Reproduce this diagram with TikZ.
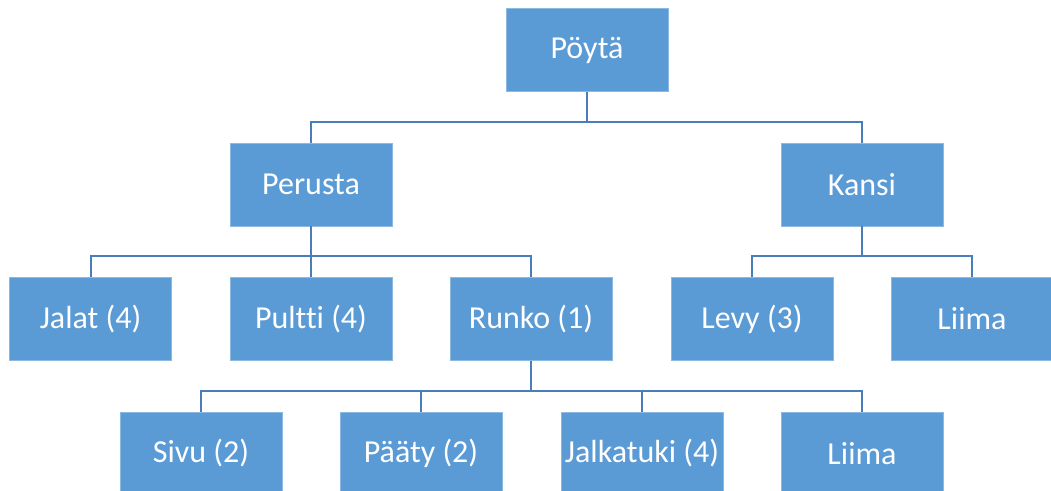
\documentclass[tikz,border=0pt]{standalone}
\usepackage{fontspec}
\setmainfont[Ligatures=NoCommon]{Carlito}
\definecolor{boxblue}{HTML}{5B9BD5}
\definecolor{linkblue}{HTML}{4A7EBB}
\begin{document}
\begin{tikzpicture}[x=1pt,y=-1pt,
  part/.style={fill=boxblue, draw=boxblue!70!white, line width=0.6pt,
    minimum width=162pt, minimum height=83pt, inner sep=0pt,
    text=white, font=\fontsize{32}{38}\selectfont},
  link/.style={draw=linkblue, line width=2pt}]
\useasboundingbox (0,0) rectangle (1051,490);
\clip (0,0) rectangle (1051,490);
% level 0
\node[part] (poyta) at (587,50) {Pöytä};
% level 1
\node[part] (perusta) at (311,184.5) {Perusta};
\node[part] (kansi) at (862,184.5) {Kansi};
% level 2
\node[part] (jalat) at (90.5,319) {Jalat (4)};
\node[part] (pultti) at (311,319) {Pultti (4)};
\node[part] (runko) at (531,319) {Runko (1)};
\node[part] (levy) at (752,319) {Levy (3)};
\node[part] (liima1) at (972,319) {Liima};
% level 3
\node[part] (sivu) at (201,453.5) {Sivu (2)};
\node[part] (paaty) at (421,453.5) {Pääty (2)};
\node[part] (jalkatuki) at (642,453.5) {Jalkatuki (4)};
\node[part] (liima2) at (862,453.5) {Liima};
% connectors
\foreach \p/\c/\l in {poyta/perusta/122, poyta/kansi/122,
  perusta/jalat/256, perusta/pultti/256, perusta/runko/256,
  kansi/levy/256, kansi/liima1/256,
  runko/sivu/391, runko/paaty/391, runko/jalkatuki/391, runko/liima2/391}
  \draw[link] (\p.south) -- (\p.south |- 0,\l) -| (\c.north);
\end{tikzpicture}
\end{document}
